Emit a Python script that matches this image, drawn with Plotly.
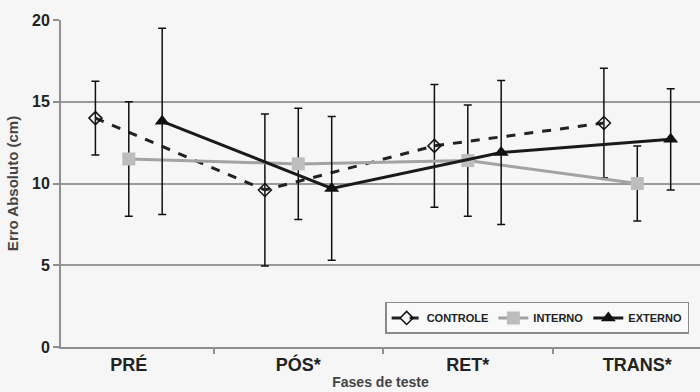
import plotly.graph_objects as go

categories = ["PRÉ", "PÓS*", "RET*", "TRANS*"]
controle = [14.0, 9.6, 12.3, 13.7]
controle_err = [2.25, 4.65, 3.75, 3.35]
interno = [11.5, 11.2, 11.4, 10.0]
interno_err = [3.5, 3.4, 3.4, 2.3]
externo = [13.8, 9.7, 11.9, 12.7]
externo_err = [5.7, 4.4, 4.4, 3.1]
y_ticks = [0, 5, 10, 15, 20]

pos = list(range(len(categories)))
off = 0.197
FONT = "Liberation Sans, Arial, sans-serif"
BG = "#f6f6f6"

def err(vals):
    return dict(type="data", array=vals, visible=True, color="#111",
                thickness=1.5, width=4)

fig = go.Figure()
fig.add_trace(go.Scatter(
    x=[p - off for p in pos], y=controle, name="CONTROLE", mode="lines+markers",
    line=dict(color="#222", width=3, dash="dash"),
    marker=dict(symbol="diamond-open", size=10, color="#111", line=dict(width=1.5)),
    error_y=err(controle_err)))
fig.add_trace(go.Scatter(
    x=pos, y=interno, name="INTERNO", mode="lines+markers",
    line=dict(color="#a3a3a3", width=3),
    marker=dict(symbol="square", size=13, color="#bdbdbd"),
    error_y=err(interno_err)))
fig.add_trace(go.Scatter(
    x=[p + off for p in pos], y=externo, name="EXTERNO", mode="lines+markers",
    line=dict(color="#1a1a1a", width=3),
    marker=dict(symbol="triangle-up", size=13, color="#111"),
    error_y=err(externo_err)))

fig.update_layout(
    width=700, height=392,
    margin=dict(l=61, r=0, t=20, b=45),
    paper_bgcolor=BG, plot_bgcolor=BG,
    font=dict(family=FONT, color="#222"),
    showlegend=True,
    legend=dict(orientation="h", x=0.983, xanchor="right", y=0.04, yanchor="bottom",
                bgcolor="#f9f9f9", bordercolor="#8a8a8a", borderwidth=1.5,
                font=dict(family=FONT, size=11, color="#222", weight="bold"),
                itemwidth=30, tracegroupgap=0),
    xaxis=dict(range=[-0.40, 3.37], tickmode="array", tickvals=pos, ticktext=categories,
               ticks="", showgrid=False, zeroline=False,
               showline=True, linecolor="#8f8f8f", linewidth=2,
               tickfont=dict(family=FONT, size=18, color="#222", weight="bold"),
               minor=dict(tickmode="array", tickvals=[0.5, 1.5, 2.5], ticks="outside",
                          ticklen=5, tickwidth=2, tickcolor="#8f8f8f", showgrid=False),
               title=dict(text="Fases de teste", standoff=4,
                          font=dict(family=FONT, size=14, color="#444", weight="bold"))),
    yaxis=dict(range=[0, 20], tickmode="array", tickvals=y_ticks,
               showgrid=True, gridcolor="#9a9a9a", gridwidth=2,
               zeroline=False, showline=True, linecolor="#8f8f8f", linewidth=2,
               ticks="outside", ticklen=6, tickwidth=2, tickcolor="#8f8f8f",
               tickfont=dict(family=FONT, size=16, color="#222", weight="bold"),
               title=dict(text="Erro Absoluto (cm)", standoff=10,
                          font=dict(family=FONT, size=15, color="#444", weight="bold"))),
)

fig.write_html("out.html", config={"displayModeBar": False},
               post_script="document.body.style.margin='0';document.body.style.background='%s';" % BG)
